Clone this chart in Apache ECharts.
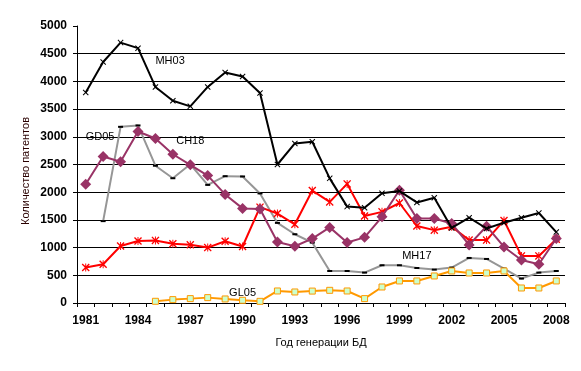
<!DOCTYPE html>
<html><head><meta charset="utf-8">
<script src="https://cdn.jsdelivr.net/npm/echarts@6/dist/echarts.min.js"></script>
<style>html,body{margin:0;padding:0;background:#fff}#c{width:581px;height:371px}</style>
</head><body><div id="c"></div>
<script>
var years = ['1981','1982','1983','1984','1985','1986','1987','1988','1989','1990','1991','1992','1993','1994','1995','1996','1997','1998','1999','2000','2001','2002','2003','2004','2005','2006','2007','2008'];
var yTicks = [0,500,1000,1500,2000,2500,3000,3500,4000,4500,5000];
var MH03 = [3800,4350,4700,4600,3900,3650,3550,3900,4160,4090,3790,2500,2880,2910,2250,1740,1720,1980,2020,1815,1900,1355,1540,1345,1450,1540,1625,1280];
var MH17 = [640,700,1030,1120,1130,1070,1050,1000,1115,1020,1730,1615,1420,2030,1825,2150,1570,1645,1805,1390,1315,1375,1135,1135,1490,850,850,1150];
var CH18 = [2145,2645,2550,3095,2970,2685,2495,2300,1960,1708,1698,1102,1024,1163,1365,1091,1185,1556,2036,1525,1525,1434,1048,1386,1012,775,700,1165];
var GD05 = [null,1478,3180,3205,2478,2252,2503,2132,2289,2284,1978,1446,1241,1090,578,578,549,681,681,632,603,639,813,795,621,441,549,578];
var GL05 = [null,null,null,null,31,61,79,97,73,49,30,217,199,215,229,217,79,289,398,398,488,578,542,542,578,271,271,398];
var labels = [
  {text:'MH03', cat:4, val:4370, align:'left'},
  {text:'GD05', cat:0.1, val:3000, align:'left'},
  {text:'CH18', cat:6.1, val:2920, align:'center'},
  {text:'MH17', cat:19, val:840, align:'center'},
  {text:'GL05', cat:9.4, val:180, align:'center'}
];
var xPath = 'path://M0,1.2L1.2,0L5,3.8L8.8,0L10,1.2L6.2,5L10,8.8L8.8,10L5,6.2L1.2,10L0,8.8L3.8,5Z';
var starPath = 'path://M0,1.2L1.2,0L4.4,3.2L4.4,0L5.6,0L5.6,3.2L8.8,0L10,1.2L6.2,5L10,8.8L8.8,10L5.6,6.8L5.6,10L4.4,10L4.4,6.8L1.2,10L0,8.8L3.8,5Z';
var chart = echarts.init(document.getElementById('c'), null, {renderer:'canvas'});
var splitColors = yTicks.map(function(v,i){return i===yTicks.length-1?'rgba(0,0,0,0)':'#000';});
var tickFont = {fontFamily:'Arial, "Liberation Sans"', fontWeight:'bold', fontSize:12, color:'#000'};
chart.setOption({
  animation:false,
  grid:{left:77, right:16, top:26, bottom:68, containLabel:false},
  xAxis:{type:'category', data:years, boundaryGap:true,
    axisLine:{lineStyle:{color:'#000', width:1}},
    axisTick:{show:true, interval:0, length:4, lineStyle:{color:'#000'}},
    axisLabel:Object.assign({interval:2, margin:12}, tickFont),
    splitLine:{show:false},
    name:'Год генерации БД', nameLocation:'middle', nameGap:34,
    nameTextStyle:{fontFamily:'Arial, "Liberation Sans"', fontSize:11, color:'#000'}
  },
  yAxis:{type:'value', min:0, max:5000, interval:500,
    axisLine:{show:true, lineStyle:{color:'#000', width:1}},
    axisTick:{show:true, length:4, lineStyle:{color:'#000'}},
    axisLabel:Object.assign({margin:10, formatter:function(v){return String(v);}}, tickFont),
    splitLine:{show:true, lineStyle:{color:splitColors, width:1}}
  },
  series:[
    {name:'GD05', type:'line', data:GD05, lineStyle:{color:'#969696', width:2}, itemStyle:{color:'#000'}, symbol:'rect', symbolSize:[5,2], z:2},
    {name:'GL05', type:'line', data:GL05, lineStyle:{color:'#FF9900', width:2}, itemStyle:{color:'#CCFFCC', borderColor:'#FF9900', borderWidth:1}, symbol:'rect', symbolSize:6, z:3},
    {name:'MH17', type:'line', data:MH17, lineStyle:{color:'#FF0000', width:2}, itemStyle:{color:'#FF0000'}, symbol:starPath, symbolSize:8, z:4},
    {name:'CH18', type:'line', data:CH18, lineStyle:{color:'#993366', width:2}, itemStyle:{color:'#993366'}, symbol:'diamond', symbolSize:11, z:5},
    {name:'MH03', type:'line', data:MH03, lineStyle:{color:'#000', width:2}, itemStyle:{color:'#000'}, symbol:xPath, symbolSize:6, z:6}
  ]
});
var g = labels.map(function(l){
  var p = chart.convertToPixel({xAxisIndex:0, yAxisIndex:0}, [l.cat, l.val]);
  return {type:'text', x:p[0], y:p[1], z:100, style:{text:l.text, fill:'#000', font:'11px Arial, "Liberation Sans"', align:l.align, verticalAlign:'middle'}};
});
g.push({type:'text', x:26, y:171, rotation:Math.PI/2, z:100, style:{text:'Количество патентов', fill:'#2a0000', font:'11px Arial, "Liberation Sans"', align:'center', verticalAlign:'middle'}});
chart.setOption({graphic:g});
</script>
</body></html>
